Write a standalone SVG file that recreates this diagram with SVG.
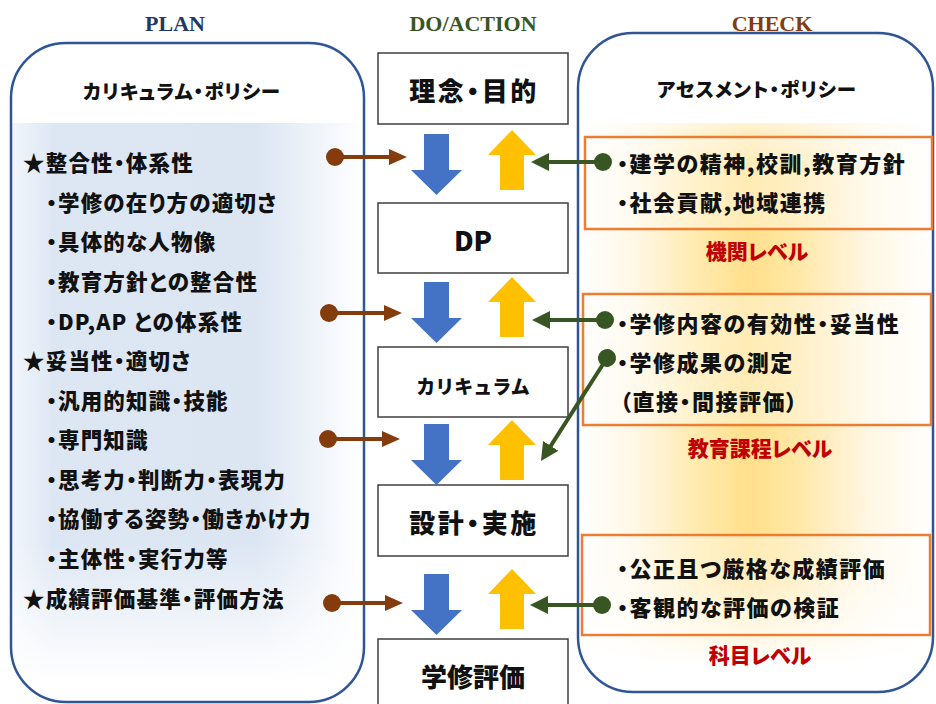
<svg xmlns="http://www.w3.org/2000/svg" width="936" height="704" viewBox="0 0 936 704">
<style>
.hdr{font-family:"Liberation Serif","Times New Roman",serif;font-weight:bold;font-size:22px;text-anchor:middle}
.jp{font-family:"Noto Sans CJK JP","Noto Sans",sans-serif;font-weight:900;fill:#111}
.pt{font-feature-settings:"palt" 1}
.ttl{font-size:19.5px;letter-spacing:1px;text-anchor:middle;dominant-baseline:central}
.li{font-size:21.5px;letter-spacing:1.2px;dominant-baseline:central}
.ri{font-size:22px;letter-spacing:1.5px;dominant-baseline:central}
.lvl{font-size:21px;text-anchor:middle;dominant-baseline:central;fill:#C00000}
.ct{text-anchor:middle;dominant-baseline:central}
.panel{fill:none;stroke:#2F5597;stroke-width:2.5}
.box{fill:#fff;stroke:#3F3F3F;stroke-width:1.5}
.obox{fill:#fff;fill-opacity:0.35;stroke:#ED7D31;stroke-width:2.5}
.brown{stroke:#843C0C;stroke-width:4;fill:none;marker-start:url(#dotB);marker-end:url(#headB)}
.green{stroke:#375623;stroke-width:4;fill:none;marker-start:url(#dotG);marker-end:url(#headG)}
.blue{fill:#4472C4}
.yel{fill:#FFC000}
</style>
<defs>
<clipPath id="clipL"><rect x="11" y="43" width="353" height="659" rx="55"/></clipPath>
<clipPath id="clipR"><rect x="578" y="33" width="355" height="659" rx="55"/></clipPath>
<linearGradient id="gLh" x1="0" y1="0" x2="1" y2="0">
<stop offset="0" stop-color="#F2F6FB"/>
<stop offset="0.12" stop-color="#DDE7F4"/>
<stop offset="0.7" stop-color="#DCE6F3"/>
<stop offset="1" stop-color="#FFFFFF"/>
</linearGradient>
<linearGradient id="gLv" x1="0" y1="0" x2="0" y2="1">
<stop offset="0" stop-color="#fff" stop-opacity="0"/>
<stop offset="0.75" stop-color="#fff" stop-opacity="0"/>
<stop offset="1" stop-color="#fff" stop-opacity="1"/>
</linearGradient>
<linearGradient id="gRh" x1="0" y1="0" x2="1" y2="0">
<stop offset="0" stop-color="#FFFFFF"/>
<stop offset="0.15" stop-color="#FFF8E8"/>
<stop offset="0.33" stop-color="#FFEBB0"/>
<stop offset="0.48" stop-color="#FFE08C"/>
<stop offset="0.6" stop-color="#FFE6A2"/>
<stop offset="0.82" stop-color="#FFF7E4"/>
<stop offset="1" stop-color="#FFFFFF"/>
</linearGradient>
<linearGradient id="gRv" x1="0" y1="0" x2="0" y2="1">
<stop offset="0" stop-color="#fff" stop-opacity="0.6"/>
<stop offset="0.08" stop-color="#fff" stop-opacity="0"/>
<stop offset="0.82" stop-color="#fff" stop-opacity="0"/>
<stop offset="1" stop-color="#fff" stop-opacity="1"/>
</linearGradient>
<marker id="headB" markerUnits="userSpaceOnUse" markerWidth="18" markerHeight="16" refX="10" refY="8" orient="auto"><path d="M0,0 L18,8 L0,16 Z" fill="#843C0C"/></marker>
<marker id="dotB" markerUnits="userSpaceOnUse" markerWidth="20" markerHeight="20" refX="10" refY="10" orient="auto"><circle cx="10" cy="10" r="9" fill="#843C0C"/></marker>
<marker id="headG" markerUnits="userSpaceOnUse" markerWidth="18" markerHeight="18" refX="10" refY="9" orient="auto"><path d="M0,0 L18,9 L0,18 Z" fill="#375623"/></marker>
<marker id="dotG" markerUnits="userSpaceOnUse" markerWidth="20" markerHeight="20" refX="10" refY="10" orient="auto"><circle cx="10" cy="10" r="9" fill="#375623"/></marker>
<path id="downA" d="M424,0 H449 V36 H462 L436.5,61 L411,36 H424 Z"/>
<path id="upA" d="M512,0 L536,25 H524 V60 H500 V25 H488 Z"/>
</defs>

<rect width="936" height="704" fill="#fff"/>

<!-- headers -->
<text class="hdr" x="175" y="31" fill="#1F3864">PLAN</text>
<text class="hdr" x="473" y="31" fill="#375623">DO/ACTION</text>
<text class="hdr" x="772" y="31" fill="#843C0C">CHECK</text>

<!-- PLAN panel -->
<g id="plan">
<g clip-path="url(#clipL)">
<rect x="11" y="123" width="353" height="560" fill="url(#gLh)"/>
<rect x="11" y="123" width="353" height="560" fill="url(#gLv)"/>
</g>
<rect class="panel" x="11" y="43" width="353" height="659" rx="55"/>
<text class="jp pt ttl" x="182" y="90">カリキュラム・ポリシー</text>
<text class="jp pt li" x="23" y="161">★整合性・体系性</text>
<text class="jp pt li" x="46" y="201">・学修の在り方の適切さ</text>
<text class="jp pt li" x="46" y="240">・具体的な人物像</text>
<text class="jp pt li" x="46" y="280">・教育方針との整合性</text>
<text class="jp pt li" x="46" y="320">・DP,AP との体系性</text>
<text class="jp pt li" x="23" y="359">★妥当性・適切さ</text>
<text class="jp pt li" x="46" y="399">・汎用的知識・技能</text>
<text class="jp pt li" x="46" y="438">・専門知識</text>
<text class="jp pt li" x="46" y="478">・思考力・判断力・表現力</text>
<text class="jp pt li" x="46" y="517">・協働する姿勢・働きかけ力</text>
<text class="jp pt li" x="46" y="557">・主体性・実行力等</text>
<text class="jp pt li" x="23" y="597">★成績評価基準・評価方法</text>
</g>

<!-- CHECK panel -->
<g id="check">
<g clip-path="url(#clipR)">
<rect x="578" y="123" width="355" height="540" fill="url(#gRh)"/>
<rect x="578" y="123" width="355" height="540" fill="url(#gRv)"/>
</g>
<rect class="panel" x="578" y="33" width="355" height="659" rx="55"/>
<text class="jp pt ttl" x="757" y="88">アセスメント・ポリシー</text>
</g>

<g id="level-inst">
<rect class="obox" x="585" y="137" width="347" height="92"/>
<text class="jp pt ri" x="617" y="162">・建学の精神,校訓,教育方針</text>
<text class="jp pt ri" x="617" y="201">・社会貢献,地域連携</text>
<text class="jp pt lvl" x="757" y="250">機関レベル</text>
</g>
<g id="level-prog">
<rect class="obox" x="583" y="294" width="348" height="131"/>
<text class="jp pt ri" x="617" y="322">・学修内容の有効性・妥当性</text>
<text class="jp pt ri" x="617" y="361">・学修成果の測定</text>
<text class="jp pt ri" x="620" y="400">（直接・間接評価）</text>
<text class="jp pt lvl" x="760" y="447">教育課程レベル</text>
</g>
<g id="level-course">
<rect class="obox" x="582" y="535" width="348" height="100"/>
<text class="jp pt ri" x="617" y="567">・公正且つ厳格な成績評価</text>
<text class="jp pt ri" x="617" y="606">・客観的な評価の検証</text>
<text class="jp pt lvl" x="760" y="654">科目レベル</text>
</g>

<!-- center column -->
<g id="n-rinen"><rect class="box" x="378" y="53" width="190" height="71"/><text class="jp pt ct" x="474" y="89" font-size="26" letter-spacing="2.5">理念・目的</text></g>
<g id="n-dp"><rect class="box" x="378" y="203" width="190" height="70"/><text class="jp ct" x="473" y="239" font-size="27">DP</text></g>
<g id="n-curr"><rect class="box" x="378" y="347" width="190" height="70"/><text class="jp ct" x="473" y="385" font-size="19">カリキュラム</text></g>
<g id="n-impl"><rect class="box" x="378" y="485" width="190" height="71"/><text class="jp pt ct" x="474" y="521" font-size="26" letter-spacing="2.5">設計・実施</text></g>
<g id="n-eval"><rect class="box" x="378" y="639" width="190" height="80"/><text class="jp ct" x="473" y="675" font-size="26">学修評価</text></g>

<!-- connectors -->
<g id="connectors">
<use href="#downA" class="blue" transform="translate(0,134)"/>
<use href="#downA" class="blue" transform="translate(0,282)"/>
<use href="#downA" class="blue" transform="translate(0,424)"/>
<use href="#downA" class="blue" transform="translate(0,574)"/>
<use href="#upA" class="yel" transform="translate(0,130)"/>
<use href="#upA" class="yel" transform="translate(0,277)"/>
<use href="#upA" class="yel" transform="translate(0,420)"/>
<use href="#upA" class="yel" transform="translate(0,569)"/>
<path class="brown" d="M335,157 H399"/>
<path class="brown" d="M329,313 H394"/>
<path class="brown" d="M328,439 H392"/>
<path class="brown" d="M332,603 H395"/>
<path class="green" d="M603,162 H539"/>
<path class="green" d="M605,320 H540"/>
<path class="green" d="M607,358 L545.3,454.3"/>
<path class="green" d="M602,605 H538"/>
</g>
</svg>
